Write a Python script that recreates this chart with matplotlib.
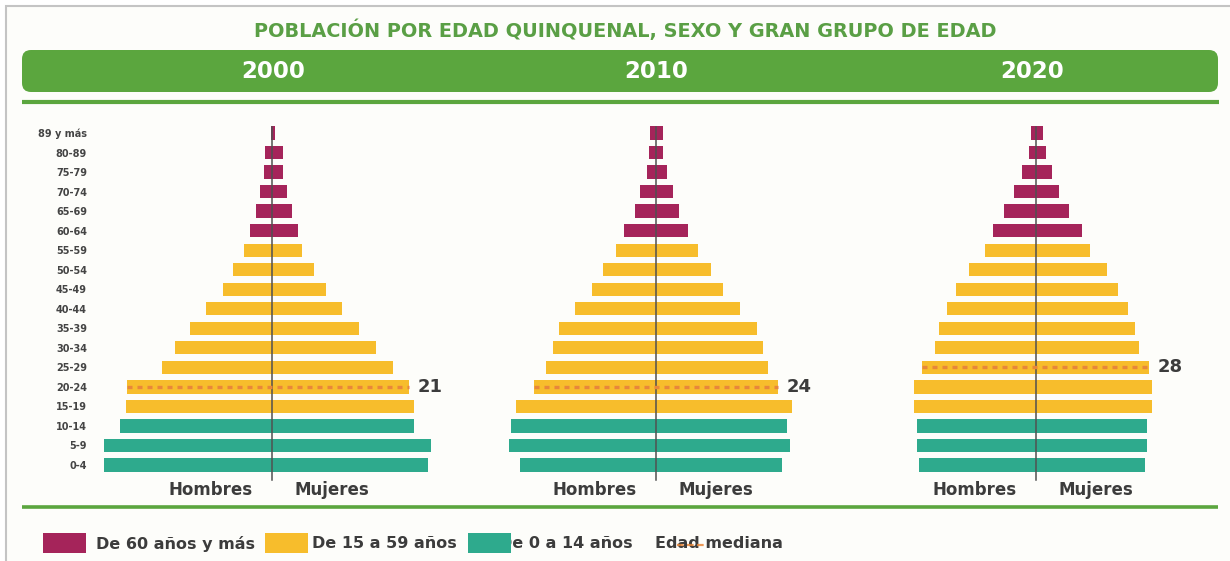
import matplotlib
matplotlib.use('Agg')
import matplotlib.pyplot as plt
from matplotlib.patches import Rectangle, FancyBboxPatch

# age groups, bottom to top (labels as printed on the chart)
ages = ['0-4', '5-9', '10-14', '15-19', '20-24', '25-29', '30-34', '35-39',
        '40-44', '45-49', '50-54', '55-59', '60-64', '65-69', '70-74',
        '75-79', '80-89', '89 y más']
years = ['2000', '2010', '2020']

# relative size of each bar
hombres_2000 = [168.3, 168.0, 152.0, 145.7, 145.0, 110.3, 96.7, 81.7, 66.0,
                49.0, 39.3, 27.7, 22.0, 16.0, 12.3, 8.3, 6.7, 1.0]
mujeres_2000 = [156.0, 159.0, 142.3, 142.3, 136.7, 121.3, 104.0, 87.0, 69.7,
                54.0, 41.7, 29.7, 26.0, 20.0, 15.3, 11.3, 10.7, 3.3]
hombres_2010 = [136.3, 146.7, 145.3, 140.0, 122.0, 109.7, 103.0, 97.0, 80.7,
                64.3, 53.3, 39.7, 32.0, 21.3, 16.0, 9.3, 7.3, 6.0]
mujeres_2010 = [126.0, 133.7, 131.0, 136.0, 122.0, 111.7, 107.3, 101.3, 83.7,
                66.7, 55.0, 41.7, 32.3, 22.7, 16.7, 10.7, 7.3, 7.3]
hombres_2020 = [116.7, 119.0, 119.0, 122.0, 122.0, 113.7, 101.0, 97.3, 88.7,
                79.7, 67.0, 51.0, 43.3, 32.3, 22.0, 13.7, 7.0, 5.3]
mujeres_2020 = [109.0, 111.3, 111.3, 116.0, 116.0, 113.0, 103.0, 99.3, 91.7,
                82.0, 71.0, 54.3, 46.0, 33.3, 22.7, 16.3, 9.7, 7.3]
edad_mediana = [21, 24, 28]

grupos = ['De 60 años y más', 'De 15 a 59 años', 'De 0 a 14 años']
mediana_label = 'Edad mediana'

hombres = [hombres_2000, hombres_2010, hombres_2020]
mujeres = [mujeres_2000, mujeres_2010, mujeres_2020]

MAROON = '#a5245a'
YELLOW = '#f7bd2c'
TEAL = '#2eaa8d'
GREEN = '#5ba63e'
TITLE_GREEN = '#5a9f45'
TXT = '#3c3c3c'
ORANGE = '#e8873a'


def group_color(i):
    if i < 3:
        return TEAL
    if i < 12:
        return YELLOW
    return MAROON


colors = [group_color(i) for i in range(len(ages))]

W, H = 1230, 561
fig = plt.figure(figsize=(W / 100, H / 100), dpi=100)
fig.patch.set_facecolor('white')

# background / decoration layer in pixel units
bg = fig.add_axes([0, 0, 1, 1], zorder=0)
bg.set_xlim(0, W)
bg.set_ylim(H, 0)
bg.axis('off')
bg.add_patch(Rectangle((6, 6), W, H, facecolor='#fdfdfa',
                       edgecolor='#c4c4c4', lw=1.5))
bg.text(625, 30, 'POBLACIÓN POR EDAD QUINQUENAL, SEXO Y GRAN GRUPO DE EDAD',
        ha='center', va='center', fontsize=13.9, fontweight='bold',
        color=TITLE_GREEN)
bg.add_patch(FancyBboxPatch((22, 50), 1196, 42,
                            boxstyle='round,pad=0,rounding_size=9',
                            facecolor=GREEN, edgecolor='none'))
bg.plot([22, 1219], [102, 102], color=GREEN, lw=3, solid_capstyle='butt')
bg.plot([22, 1218], [507, 507], color=GREEN, lw=2.6, solid_capstyle='butt')

centers = [272, 656, 1036]
label_x = [273, 656, 1032]
for lx, yr in zip(label_x, years):
    bg.text(lx, 71, yr, ha='center', va='center', fontsize=16.5,
            fontweight='bold', color='white')

# legend
legend_boxes = [(43, MAROON, 96), (265, YELLOW, 312), (468, TEAL, 499)]
for (x0, c, tx), lab in zip(legend_boxes, grupos):
    bg.text(tx, 544, lab, ha='left', va='center', fontsize=11.5,
            fontweight='bold', color=TXT, zorder=2)
    bg.add_patch(Rectangle((x0, 533), 43, 20, facecolor=c, edgecolor='none',
                           zorder=3))
bg.text(655, 544, mediana_label, ha='left', va='center', fontsize=11.5,
        fontweight='bold', color=TXT, zorder=2)
bg.plot([677, 707], [545, 545], color=ORANGE, lw=1.6, dashes=(3, 1.5),
        zorder=3, alpha=0.85)

# pyramids
hw = 182
step = 332 / 17
row0 = 465
ylo, yhi = -1.8, 17.6
px_bot = row0 - ylo * step
px_top = row0 - yhi * step
y = list(range(len(ages)))

for k, cx in enumerate(centers):
    ax = fig.add_axes([(cx - hw) / W, 1 - px_bot / H, 2 * hw / W,
                       (px_bot - px_top) / H], zorder=1)
    ax.set_facecolor('none')
    ax.set_xlim(-hw, hw)
    ax.set_ylim(ylo, yhi)
    for s in ax.spines.values():
        s.set_visible(False)
    ax.set_xticks([])
    ax.barh(y, [-v for v in hombres[k]], height=0.68, color=colors)
    ax.barh(y, mujeres[k], height=0.68, color=colors)
    ax.plot([0, 0], [-0.75, 17.3], color='#505050', lw=1.1, zorder=4)

    med = edad_mediana[k]
    r = med // 5
    ax.plot([-hombres[k][r], mujeres[k][r]], [r, r], color=ORANGE, lw=2.4,
            dashes=(1.5, 1.5), zorder=5)
    ax.text(mujeres[k][r] + 9, r, str(med), ha='left', va='center',
            fontsize=13, fontweight='bold', color=TXT)

    ax.text(-61, -1.28, 'Hombres', ha='center', va='center', fontsize=12,
            fontweight='bold', color=TXT)
    ax.text(60, -1.28, 'Mujeres', ha='center', va='center', fontsize=12,
            fontweight='bold', color=TXT)

    if k == 0:
        ax.set_yticks(y)
        ax.set_yticklabels(ages, fontsize=7, fontweight='bold', color='#444444')
        ax.tick_params(axis='y', length=0, pad=2.2)
    else:
        ax.set_yticks([])

fig.savefig('out.png', dpi=100, facecolor=fig.get_facecolor())
